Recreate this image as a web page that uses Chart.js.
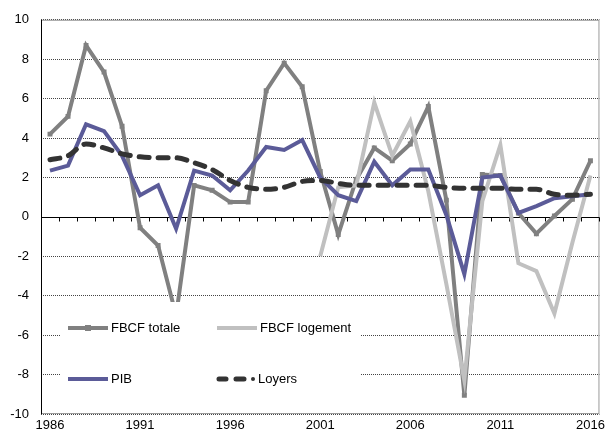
<!DOCTYPE html>
<html>
<head>
<meta charset="utf-8">
<script src="https://cdn.jsdelivr.net/npm/chart.js@4/dist/chart.umd.min.js"></script>
<style>
  html, body { margin: 0; padding: 0; background: #fff; }
  #wrap { width: 609px; height: 436px; }
</style>
</head>
<body>
<div id="wrap"><canvas id="lineChart" width="609" height="436"></canvas></div>
<script>
var years = ['1986','1987','1988','1989','1990','1991','1992','1993','1994','1995',
             '1996','1997','1998','1999','2000','2001','2002','2003','2004','2005',
             '2006','2007','2008','2009','2010','2011','2012','2013','2014','2015','2016'];

var fbcfTotale = [4.2, 5.1, 8.7, 7.35, 4.6, -0.55, -1.45, -5.0, 1.6, 1.35,
                  0.75, 0.75, 6.4, 7.8, 6.6, 2.3, -0.9, 1.9, 3.5, 2.85,
                  3.7, 5.6, 0.85, -9.05, 2.15, 2.1, 0.2, -0.85, 0.05, 0.9, 2.85];

var fbcfLogement = [null, null, null, null, null, null, null, null, null, null,
                    null, null, null, null, null, -2.0, 1.5, 1.6, 5.8, 3.1,
                    4.85, 1.3, -3.4, -8.3, 0.8, 3.65, -2.35, -2.75, -4.9, -1.3, 2.1];

var pib = [2.35, 2.6, 4.7, 4.35, 3.1, 1.1, 1.6, -0.6, 2.35, 2.1,
           1.35, 2.35, 3.55, 3.4, 3.9, 2.0, 1.1, 0.8, 2.8, 1.6,
           2.4, 2.4, 0.1, -2.9, 2.0, 2.1, 0.2, 0.55, 0.95, 1.05, 1.15];

var loyers = [2.9, 3.1, 3.7, 3.5, 3.2, 3.05, 3.0, 3.0, 2.75, 2.4,
              1.85, 1.5, 1.4, 1.5, 1.8, 1.85, 1.7, 1.6, 1.6, 1.6,
              1.6, 1.6, 1.5, 1.45, 1.45, 1.45, 1.4, 1.4, 1.15, 1.1, 1.15];

var yTicks = [-10, -8, -6, -4, -2, 0, 2, 4, 6, 8, 10];

var FONT = "'Liberation Sans', Arial, sans-serif";
var C_TOT = '#808080', C_LOG = '#c0c0c0', C_PIB = '#5b5b98', C_LOY = '#333333';

// zero line with ticks, plot frame
var framePlugin = {
    id: 'frame',
    beforeDatasetsDraw: function(chart) {
        var ctx = chart.ctx, a = chart.chartArea, x = chart.scales.x, y = chart.scales.y;
        ctx.save();
        ctx.lineWidth = 1;
        ctx.strokeStyle = '#9a9a9a';
        ctx.strokeRect(a.left + 0.5, a.top + 0.5, a.right - a.left - 1, a.bottom - a.top - 1);
        var y0 = Math.round(y.getPixelForValue(0)) + 0.5;
        ctx.strokeStyle = '#000';
        ctx.beginPath();
        ctx.moveTo(a.left, y0);
        ctx.lineTo(a.right, y0);
        var step = x.getPixelForValue(1) - x.getPixelForValue(0);
        for (var i = 0; i <= years.length; i++) {
            var bx = Math.round(x.getPixelForValue(i) - step / 2) + 0.5;
            ctx.moveTo(bx, y0);
            ctx.lineTo(bx, y0 + 4);
        }
        ctx.moveTo(a.left + 0.5, a.top);
        ctx.lineTo(a.left + 0.5, a.bottom);
        ctx.stroke();
        ctx.restore();
    }
};

// legend box drawn inside the plot, on top of the lines
var legendPlugin = {
    id: 'insideLegend',
    afterDatasetsDraw: function(chart) {
        var ctx = chart.ctx;
        ctx.save();
        ctx.fillStyle = '#fff';
        ctx.fillRect(61, 302, 299, 98);
        ctx.lineCap = 'butt';
        ctx.font = '13px ' + FONT;
        ctx.textBaseline = 'middle';
        ctx.fillStyle = '#000';

        // FBCF totale
        ctx.strokeStyle = C_TOT; ctx.lineWidth = 4;
        ctx.beginPath(); ctx.moveTo(68, 328); ctx.lineTo(108, 328); ctx.stroke();
        ctx.fillStyle = C_TOT; ctx.fillRect(85, 325, 6, 6);
        ctx.fillStyle = '#000'; ctx.fillText('FBCF totale', 111, 328);

        // FBCF logement
        ctx.strokeStyle = C_LOG;
        ctx.beginPath(); ctx.moveTo(217, 328); ctx.lineTo(257, 328); ctx.stroke();
        ctx.fillText('FBCF logement', 260, 328);

        // PIB
        ctx.strokeStyle = C_PIB;
        ctx.beginPath(); ctx.moveTo(68, 379); ctx.lineTo(108, 379); ctx.stroke();
        ctx.fillText('PIB', 111, 379);

        // Loyers
        ctx.strokeStyle = C_LOY; ctx.lineWidth = 5; ctx.lineCap = 'round';
        ctx.beginPath();
        ctx.moveTo(219, 379); ctx.lineTo(226, 379);
        ctx.moveTo(236, 379); ctx.lineTo(244, 379);
        ctx.stroke();
        ctx.fillStyle = C_LOY;
        ctx.beginPath(); ctx.arc(253, 379, 2, 0, Math.PI * 2); ctx.fill();
        ctx.fillStyle = '#000';
        ctx.fillText('Loyers', 258, 379);
        ctx.restore();
    }
};

var ctx = document.getElementById('lineChart');
var chart = new Chart(ctx, {
    type: 'line',
    data: {
        labels: years,
        datasets: [{
            label: 'FBCF totale',
            data: fbcfTotale,
            borderColor: C_TOT,
            backgroundColor: C_TOT,
            borderWidth: 4,
            pointStyle: 'rect',
            pointRadius: 3.5,
            pointBorderWidth: 0,
            order: 3
        }, {
            label: 'FBCF logement',
            data: fbcfLogement,
            borderColor: C_LOG,
            borderWidth: 4,
            pointRadius: 0,
            order: 2
        }, {
            label: 'PIB',
            data: pib,
            borderColor: C_PIB,
            borderWidth: 4,
            pointRadius: 0,
            order: 1
        }, {
            label: 'Loyers',
            data: loyers,
            borderColor: C_LOY,
            borderWidth: 5,
            borderDash: [10, 9],
            borderCapStyle: 'round',
            cubicInterpolationMode: 'monotone',
            pointRadius: 0,
            order: 0
        }]
    },
    options: {
        responsive: false,
        animation: false,
        layout: { padding: { top: 16, right: 6, left: 0, bottom: 0 } },
        plugins: {
            legend: { display: false },
            tooltip: { enabled: false }
        },
        scales: {
            x: {
                type: 'category',
                offset: true,
                grid: { display: false, drawTicks: false },
                border: { display: false },
                ticks: {
                    autoSkip: false,
                    maxRotation: 0,
                    padding: 4,
                    color: '#000',
                    font: { family: FONT, size: 13 },
                    callback: function(v, i) {
                        return (i % 5 === 0) ? years[i] : '';
                    }
                },
                afterFit: function(s) { s.height = 22; }
            },
            y: {
                min: yTicks[0],
                max: yTicks[yTicks.length - 1],
                afterBuildTicks: function(s) {
                    s.ticks = yTicks.map(function(v) { return { value: v }; });
                },
                grid: {
                    drawTicks: false,
                    color: function(c) { return c.tick && c.tick.value === 0 ? 'rgba(0,0,0,0)' : '#444'; },
                    lineWidth: 1
                },
                border: { display: false, dash: [1, 1] },
                ticks: {
                    padding: 12,
                    color: '#000',
                    font: { family: FONT, size: 13 }
                },
                afterFit: function(s) { s.width = 41; }
            }
        }
    },
    plugins: [framePlugin, legendPlugin]
});
</script>
</body>
</html>
